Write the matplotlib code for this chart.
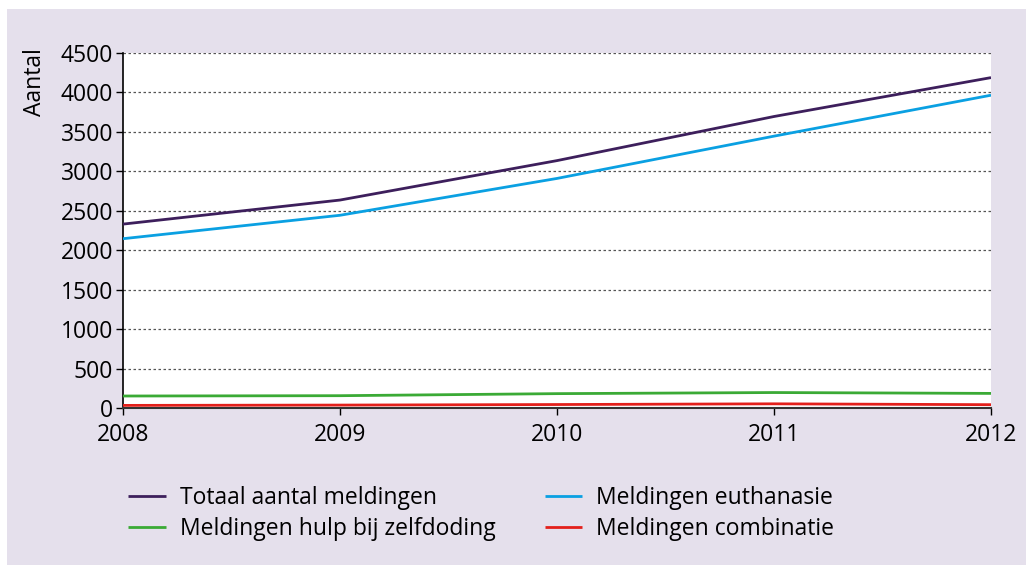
import matplotlib
matplotlib.use("Agg")
import matplotlib.pyplot as plt
from matplotlib.patches import Rectangle

years = [2008, 2009, 2010, 2011, 2012]
totaal = [2331, 2636, 3136, 3695, 4188]
euthanasie = [2146, 2443, 2910, 3446, 3965]
hulp_zelfdoding = [152, 156, 182, 196, 185]
combinatie = [33, 37, 44, 53, 42]
yticks = [0, 500, 1000, 1500, 2000, 2500, 3000, 3500, 4000, 4500]

series = [
    ("Totaal aantal meldingen", totaal, "#3d1f5c"),
    ("Meldingen euthanasie", euthanasie, "#0aa0e2"),
    ("Meldingen hulp bij zelfdoding", hulp_zelfdoding, "#3aaa35"),
    ("Meldingen combinatie", combinatie, "#e3201b"),
]

plt.rcParams['font.family'] = ['Open Sans', 'DejaVu Sans']
fig = plt.figure(figsize=(10.26, 5.65), dpi=100)
fig.patch.set_facecolor("white")
fig.patches.append(Rectangle((7 / 1026, 0), 1 - 7 / 1026, 1 - 9 / 565,
                             transform=fig.transFigure, facecolor="#e5e0ec",
                             edgecolor="none", zorder=-10))

ax = fig.add_axes([123 / 1026, 1 - 408 / 565, (991 - 123) / 1026, (408 - 53) / 565])
ax.set_facecolor("white")

handles = {}
for name, vals, col in series:
    h, = ax.plot(years, vals, color=col, lw=2.0, solid_capstyle="butt", zorder=3)
    handles[name] = h

ax.set_xlim(years[0], years[-1])
ax.set_ylim(0, 4500)
ax.set_xticks(years)
ax.set_yticks(yticks)
ax.set_yticklabels([str(t) for t in yticks])
ax.tick_params(axis="both", labelsize=16.5, colors="black", width=1)
ax.tick_params(axis="x", length=5, pad=6)
ax.tick_params(axis="y", length=5, pad=2)
ax.yaxis.grid(True, linestyle=(0, (2, 2)), color="#555555", lw=0.9)
ax.set_axisbelow(True)
for s in ["top", "right"]:
    ax.spines[s].set_visible(False)
ax.spines["left"].set_color("black")
ax.spines["left"].set_linewidth(1.2)
ax.spines["bottom"].set_color("#333333")
ax.spines["bottom"].set_linewidth(1.5)

fig.text(35 / 1026, 1 - 48 / 565, "Aantal", rotation=90, ha="center", va="top", fontsize=16.5)

order = ["Totaal aantal meldingen", "Meldingen hulp bij zelfdoding",
         "Meldingen euthanasie", "Meldingen combinatie"]
leg = fig.legend([handles[n] for n in order], order, ncol=2, frameon=False,
                 loc="upper left", bbox_to_anchor=(128 / 1026, 1 - 486 / 565),
                 borderaxespad=0, borderpad=0,
                 fontsize=16.5, handlelength=1.65, handletextpad=0.6,
                 columnspacing=2.15, labelspacing=0.3)

fig.savefig("out.png", dpi=100, facecolor=fig.get_facecolor())
